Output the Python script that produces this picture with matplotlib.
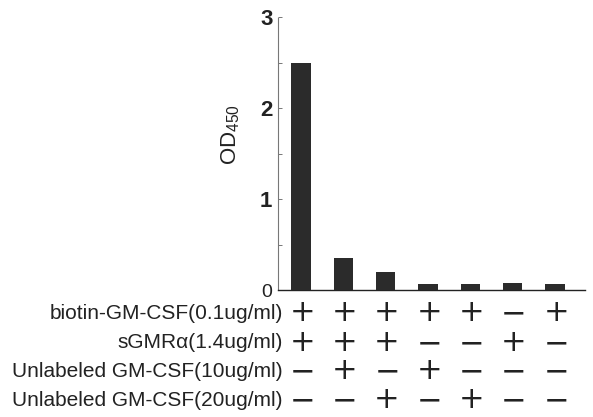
import matplotlib
matplotlib.use("Agg")
import matplotlib.pyplot as plt
import matplotlib.transforms as mtransforms

# ---- data ----
lanes = [1, 2, 3, 4, 5, 6, 7]
od450 = [2.49, 0.36, 0.20, 0.07, 0.07, 0.08, 0.07]
row_labels = ["biotin-GM-CSF(0.1ug/ml)", "sGMRα(1.4ug/ml)",
              "Unlabeled GM-CSF(10ug/ml)", "Unlabeled GM-CSF(20ug/ml)"]
row_signs = [
    ["+", "+", "+", "+", "+", "−", "+"],
    ["+", "+", "+", "−", "−", "+", "−"],
    ["−", "+", "−", "+", "−", "−", "−"],
    ["−", "−", "+", "−", "+", "−", "−"],
]
yticks = [0, 1, 2, 3]
ytick_labels = ["0", "1", "2", "3"]

plt.rcParams['font.family'] = ['Liberation Sans', 'DejaVu Sans']
plt.rcParams['mathtext.fontset'] = 'dejavusans'

fig = plt.figure(figsize=(5.93, 4.17), dpi=100)
ax = fig.add_axes([0.4688, 0.3034, 0.5177, 0.6559])

ax.bar(lanes, od450, width=0.46, color="#2b2b2b", zorder=3)

ax.set_xlim(0.456, 7.709)
ax.set_ylim(0, 3)
ax.set_yticks(yticks)
ax.set_yticklabels(ytick_labels, fontsize=16, fontweight="bold", color="#222222")
ax.set_yticks([0.5, 1.5, 2.5], minor=True)
ax.tick_params(axis="y", which="both", direction="in", length=3, width=0.7,
               colors="#777777", labelcolor="#222222", pad=4)
ax.set_xticks([])
zero_lbl = ax.get_yticklabels()[0]
zero_lbl.set_fontsize(14)
zero_lbl.set_fontweight("normal")

for s in ["top", "right"]:
    ax.spines[s].set_visible(False)
ax.spines["left"].set_linestyle((0, (1, 1)))
ax.spines["left"].set_color("#777777")
ax.spines["left"].set_linewidth(0.8)
ax.spines["bottom"].set_color("#222222")
ax.spines["bottom"].set_linewidth(1.0)

ax.set_ylabel(r"OD$_{\mathregular{450}}$", fontsize=16, color="#222222")
ax.yaxis.set_label_coords(-0.118, 0.570)

# condition table below the axis
row_y = [-0.083, -0.192, -0.295, -0.401]
trans = mtransforms.blended_transform_factory(ax.transData, ax.transAxes)
for label, signs, y in zip(row_labels, row_signs, row_y):
    ax.text(0.016, y, label, transform=ax.transAxes, ha="right", va="center",
            fontsize=15, color="#222222")
    for x, s in zip(lanes, signs):
        sym = "$+$" if s == "+" else "$-$"
        ax.text(x, y, sym, transform=trans, ha="center", va="center",
                fontsize=22, color="#222222")

fig.savefig("out.png", dpi=100)
